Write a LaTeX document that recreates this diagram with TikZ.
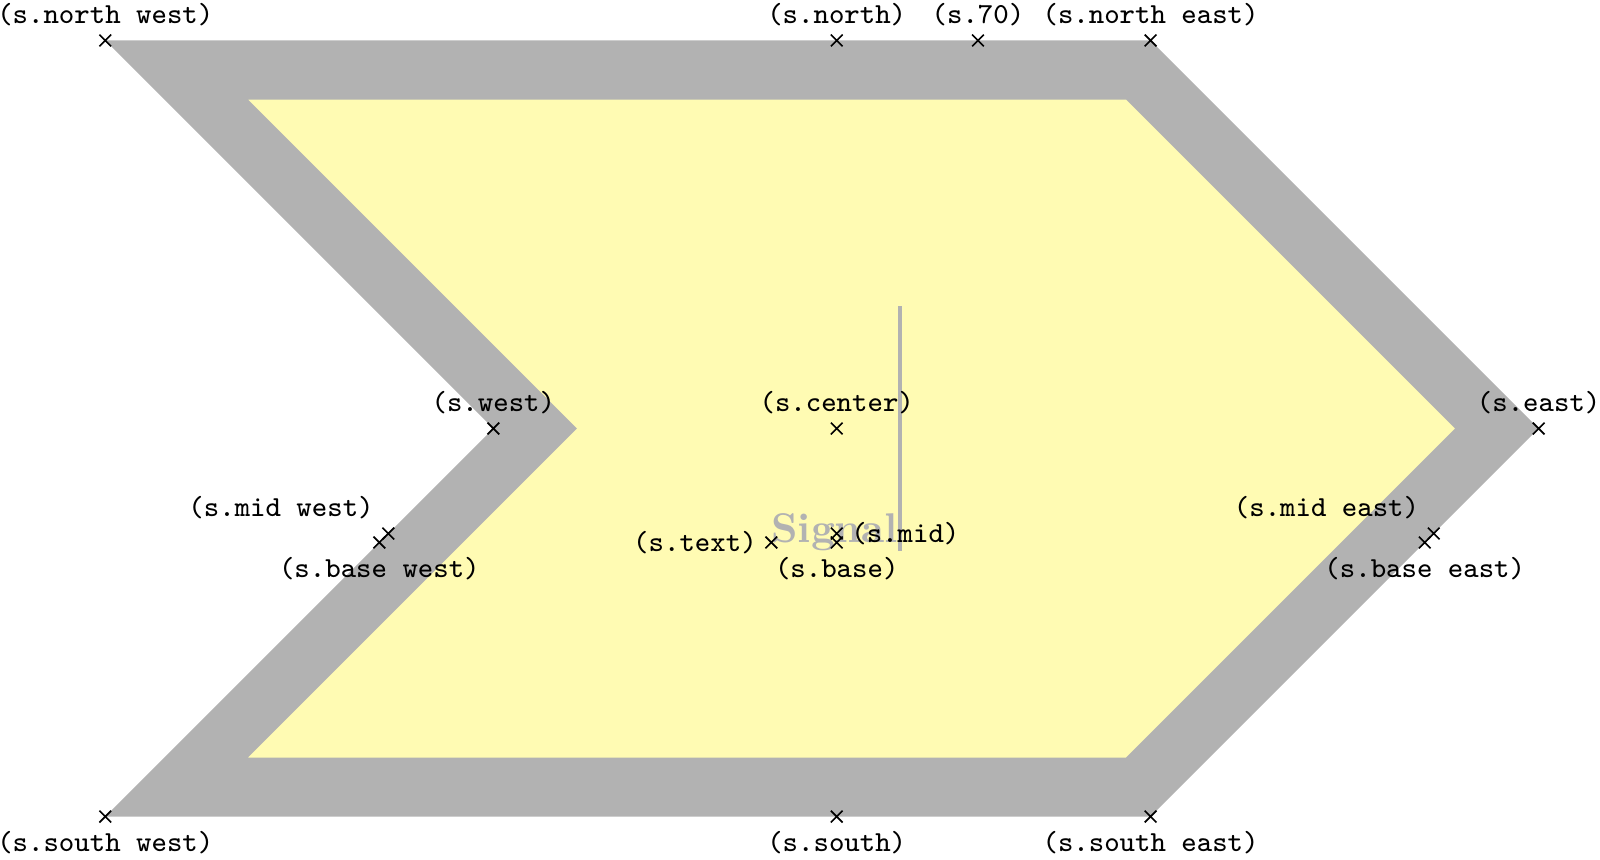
\documentclass[tikz,border=0pt]{standalone}
\usetikzlibrary{shapes.symbols}
\tikzset{
  shape example/.style={color=black!30, draw, fill=yellow!30, line width=.5cm,
    inner xsep=2cm, inner ysep=2cm, font=\bfseries},
  anchor label/.style={font=\scriptsize\ttfamily, text=black}
}
\begin{document}
\begin{tikzpicture}
  \useasboundingbox (-7.084,-3.646) rectangle (6.462,3.628);
  \node[name=s, shape=signal, signal from=west, signal to=east, shape example]
    {Signal\vrule width 1pt height 2cm};
  \foreach \anchor/\placement [count=\i] in
    {text/left, center/above, 70/above,
     mid/right, mid west/above left, mid east/above left,
     base/below, base west/below, base east/below,
     north/above, south/below, east/above, west/above,
     north west/above, north east/above,
     south west/below, south east/below}
     \draw[shift=(s.\anchor)] plot[mark=x] coordinates{(0,0)}
       node[\placement, anchor label] (lab\i) {(s.\anchor)};
\end{tikzpicture}
\end{document}
